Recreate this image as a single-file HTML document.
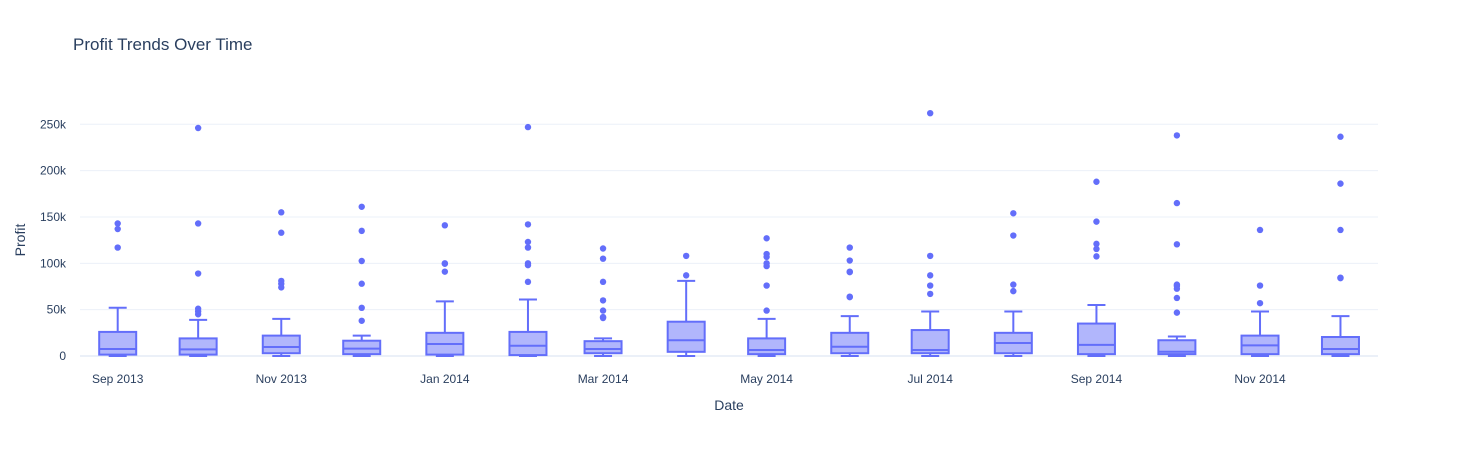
<!DOCTYPE html>
<html><head><meta charset="utf-8"><style>
body{margin:0;background:#fff;}
svg{display:block;font-family:"Liberation Sans",Arial,sans-serif;}
</style></head><body>
<svg id="chart" width="1458" height="450" xmlns="http://www.w3.org/2000/svg">
<rect width="1458" height="450" fill="#fff"/>
<text x="73" y="50" font-size="17" fill="#2a3f5f">Profit Trends Over Time</text>
<g id="grid"></g><g id="boxes"></g><g id="axes"></g>
<text x="729" y="410" font-size="14" fill="#2a3f5f" text-anchor="middle">Date</text>
<text x="25" y="240" font-size="14" fill="#2a3f5f" text-anchor="middle" transform="rotate(-90 25 240)">Profit</text>
</svg>
<script>
const months = ["2013-09","2013-10","2013-11","2013-12","2014-01","2014-02","2014-03","2014-04","2014-05","2014-06","2014-07","2014-08","2014-09","2014-10","2014-11","2014-12"];
const q1 = [1.5,1.5,3,2,1.5,1,3,4.5,2,3,3,3,2,2,2,2];
const medians = [7.5,7.2,9.7,8,13,11,7.5,17,6.5,10,6.5,14,12,4.6,11.5,7.5];
const q3 = [26,19,22,16.5,25,26,16,37,19,25,28,25,35,17,22,20.5];
const lowerWhisker = [0,0,0,0,0,0,0,0,0,0,0,0,0,0,0,0];
const upperWhisker = [52,39,40,22,59,61,19,81,40,43,48,48,55,21,48,43];
const outliers = [
 [143,137,117],
 [246,143,89,51,48,45],
 [155,133,81,78,74],
 [161,135,102.5,78,52,38],
 [141,100,99.5,91],
 [247,142,123,117,100,98,80],
 [116,105,80,60,49,42,41],
 [108,87],
 [127,110,107,100,97,76,49],
 [117,103,91,90.5,64,63.5],
 [262,108,87,76,67],
 [154,130,77,70],
 [188,145,121,115.5,107.5],
 [238,165,120.5,77,75.5,72.6,62.6,46.8],
 [136,76,57],
 [236.6,186,136,84,84.5]
];
const yTicks = [0,50,100,150,200,250];
const yTickLabels = ["0","50k","100k","150k","200k","250k"];
const xTickDates = ["2013-09","2013-11","2014-01","2014-03","2014-05","2014-07","2014-09","2014-11"];
const xTickLabels = ["Sep 2013","Nov 2013","Jan 2014","Mar 2014","May 2014","Jul 2014","Sep 2014","Nov 2014"];

const NS="http://www.w3.org/2000/svg";
const ref=Date.UTC(2013,8,1);
function days(m){const [y,mo]=m.split("-").map(Number);return (Date.UTC(y,mo-1,1)-ref)/86400000;}
function X(m){return 117.7+days(m)*2.6815;}
function Y(v){return 356-v*0.9268;}
function mk(tag,attrs,parent){const e=document.createElementNS(NS,tag);for(const k in attrs)e.setAttribute(k,attrs[k]);parent.appendChild(e);return e;}
const grid=document.getElementById("grid"),boxes=document.getElementById("boxes"),axes=document.getElementById("axes");
yTicks.forEach((t,i)=>{
 const l=mk("line",{x1:80,x2:1378,y1:Y(t),y2:Y(t),stroke:t===0?"#ebf0f8":"#ebf0f8","stroke-width":t===0?2:1},grid);
 
 
 const tx=mk("text",{x:66,y:Y(t)+4,"font-size":12,fill:"#2a3f5f","text-anchor":"end"},axes);
 tx.textContent=yTickLabels[i];
 
 
});
xTickDates.forEach((d,i)=>{
 const tx=mk("text",{x:X(d),y:383,"font-size":12,fill:"#2a3f5f","text-anchor":"middle"},axes);
 tx.textContent=xTickLabels[i];
 
 
});
const C="#636efa",bw=37,cw=18;
months.forEach((m,i)=>{
 const cx=X(m);
 const g=mk("g",{},boxes);
 
 
 mk("line",{x1:cx,x2:cx,y1:Y(q3[i]),y2:Y(upperWhisker[i]),stroke:C,"stroke-width":2},g);
 mk("line",{x1:cx,x2:cx,y1:Y(q1[i]),y2:Y(lowerWhisker[i]),stroke:C,"stroke-width":2},g);
 mk("line",{x1:cx-cw/2,x2:cx+cw/2,y1:Y(upperWhisker[i]),y2:Y(upperWhisker[i]),stroke:C,"stroke-width":2},g);
 mk("line",{x1:cx-cw/2,x2:cx+cw/2,y1:Y(lowerWhisker[i]),y2:Y(lowerWhisker[i]),stroke:C,"stroke-width":2},g);
 mk("rect",{x:cx-bw/2,y:Y(q3[i]),width:bw,height:Y(q1[i])-Y(q3[i]),fill:"rgba(99,110,250,0.5)",stroke:C,"stroke-width":2},g);
 mk("line",{x1:cx-bw/2,x2:cx+bw/2,y1:Y(medians[i]),y2:Y(medians[i]),stroke:C,"stroke-width":2},g);
 outliers[i].forEach(v=>{
  const c=mk("circle",{cx:cx,cy:Y(v),r:3.2,fill:C},g);
  
  
 });
});
</script>
</body></html>
